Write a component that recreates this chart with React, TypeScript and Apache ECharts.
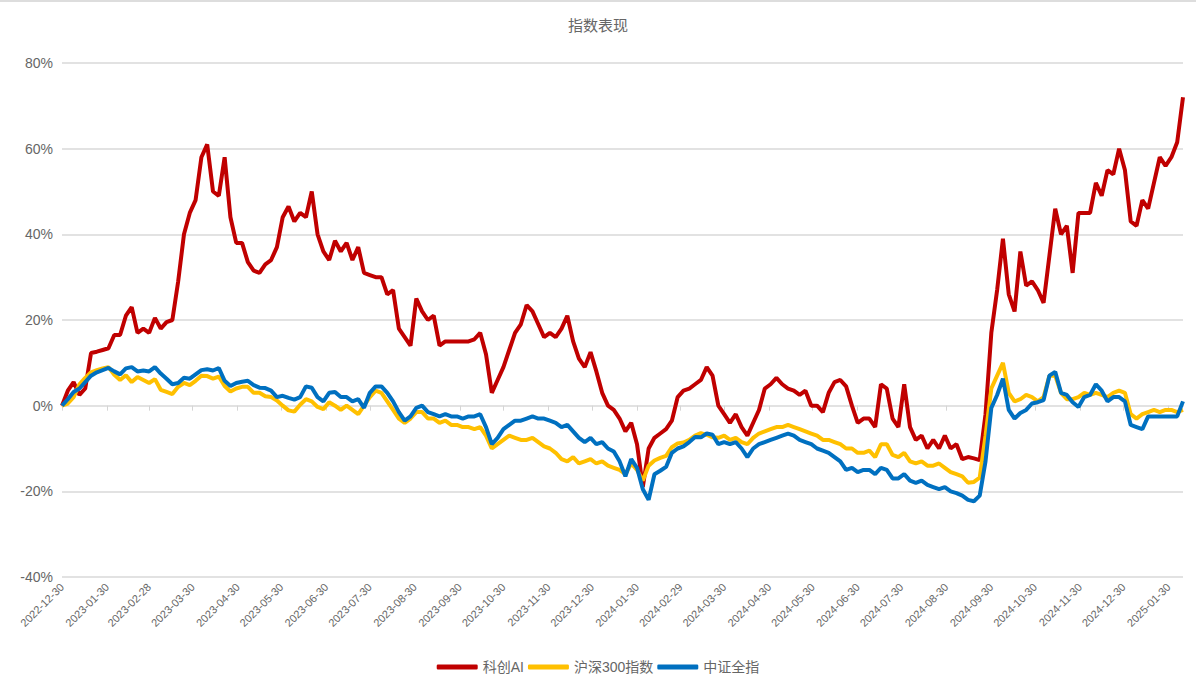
import React, { useEffect, useRef } from "react";
import * as echarts from "echarts";

// Sample grid: one value every STEP_DAYS calendar days from START_DATE
const START_DATE = "2022-12-30";
const STEP_DAYS = 4;

const seriesNames = ["科创AI", "沪深300指数", "中证全指"];
const seriesColors = ["#C00000", "#FFC000", "#0070C0"];

// 科创AI (%)
const kcai = [
  0, 3.5, 5.5, 2.5, 4, 12.3, 12.6, 13, 13.4, 16.5,
  16.5, 21, 23, 17, 18, 17, 20.5, 18, 19.5, 20,
  29, 40, 45, 48, 58, 61, 50, 49, 58, 44,
  38, 38, 33.5, 31.5, 31, 33, 34, 37, 44, 46.5,
  43, 45, 44, 50, 40, 36, 34, 38.5, 36, 38,
  34, 37, 31, 30.5, 30, 30, 26, 27, 18, 16,
  14, 25, 22, 20, 21, 14, 15, 15, 15, 15,
  15, 15.5, 17, 12, 3, 6, 9, 13, 17, 19,
  23.5, 22, 19, 16, 17, 16, 18, 21, 15, 11,
  9, 12.5, 8, 3, 0, -1, -3, -6, -4, -9,
  -19, -10, -7.5, -6.5, -5.5, -3.5, 2, 3.5, 4, 5,
  6, 9, 7, 0, -2, -4, -2, -5, -7, -4,
  -1, 4, 5, 6.5, 5, 4, 3.5, 2.5, 3.5, 0,
  0, -1.5, 3, 5.5, 6, 4.5, 0, -4, -3, -3,
  -5, 5, 4, -3, -5, 5, -5, -8, -7, -10,
  -8, -10, -7, -10, -9, -12.5, -12, -12.3, -12.7, -2,
  17, 27, 39, 26, 22, 36, 28, 29, 27, 24,
  35, 46, 40, 42, 31, 45, 45, 45, 52, 49,
  55, 54, 60, 55, 43, 42, 48, 46, 52, 58,
  56, 58, 61.5, 72,
];

// 沪深300指数 (%)
const hs300 = [
  0, 0.5, 2, 5, 6.5, 7.8, 8.3, 8.7, 9, 7.2,
  6, 7.1, 5.5, 6.7, 6, 5.3, 6.2, 3.7, 3.2, 2.7,
  4.4, 5.3, 4.8, 5.8, 7, 6.9, 6.3, 6.8, 4.6, 3.3,
  4, 4.4, 4.4, 3, 3, 2.2, 2, 1.2, 0, -1.1,
  -1.4, 0.2, 1.5, 1, -0.3, -0.8, 0.8, 0, -1, 0,
  -1, -2, 0, 2, 3.5, 3, 1, -1, -3, -4,
  -3, -1.5, -1.5, -3, -3, -4, -3.5, -4.5, -4.5, -5,
  -5, -5.5, -5, -7, -10, -9, -8, -7, -7.5, -8,
  -8, -7.5, -8.5, -9.5, -10, -11, -12.5, -13, -12, -13.5,
  -13, -12.5, -13.5, -13, -14, -14.5, -15, -16, -13.5, -15,
  -17.5, -14, -12.8, -12.2, -11.7, -9.7, -8.8, -8.6, -8, -7,
  -6.4, -6.8, -7.4, -7.5, -7, -8, -7.5, -8.5, -9, -7.5,
  -6.5, -6, -5.5, -5, -5, -4.5, -5, -5.5, -6, -6.5,
  -7, -8, -8, -8.5, -9, -10, -10, -11, -11, -10.5,
  -12, -9, -9, -11.5, -12, -11, -13, -13.5, -13, -14,
  -14, -13.5, -14.5, -15.5, -16, -16.5, -18, -17.8, -16.8, -7,
  4, 7, 10, 3, 1, 1.5, 2.5, 2, 1, 2,
  7, 7, 3, 1.5, 1.5, 2, 3, 2.5, 3, 2.5,
  2, 3, 3.5, 3, -2, -3, -2, -1.5, -1, -1.5,
  -1, -1, -1.5, -1,
];

// 中证全指 (%)
const zzqz = [
  0, 1.5, 3.2, 4, 5.5, 7, 7.8, 8.3, 8.8, 8,
  7.3, 8.7, 9, 8, 8.2, 8, 9, 7.5, 6.3, 5,
  5.3, 6.5, 6.3, 7.3, 8.3, 8.5, 8.2, 8.8, 5.8, 4.6,
  5.3, 5.6, 5.8, 4.8, 4.2, 4.1, 3.5, 2, 2.3, 1.8,
  1.4, 2, 4.5, 4.2, 2, 1, 3, 3.2, 2, 2,
  1, 1.5, -0.5, 3, 4.5, 4.5, 3, 1, -1.5, -3.5,
  -2.5, -0.5, 0, -1.5, -2, -2.5, -2, -2.5, -2.5, -3,
  -2.5, -2.5, -2, -5, -9, -7.5, -5.5, -4.5, -3.5, -3.5,
  -3, -2.5, -3, -3, -3.5, -4, -5, -4.5, -6, -7.5,
  -8.5, -7.5, -9, -8.5, -10, -10.7, -13, -16.5, -12.5, -14.5,
  -19.5, -22, -16, -15.2, -14.3, -11, -10, -9.5, -8.5, -7.3,
  -7.4, -6.5, -6.8, -9, -8.5, -9, -8.5, -10, -12, -10,
  -9, -8.5, -8, -7.5, -7, -6.5, -7, -8, -8.5, -9,
  -10, -10.5, -11, -12, -13, -15, -14.5, -15.5, -15, -15,
  -16, -14.5, -15, -17, -17, -16, -17.5, -18, -17.5, -18.5,
  -19, -19.5, -19, -20, -20.4, -21, -22, -22.3, -21, -13,
  -0.5, 2.5, 6.3, -1, -3, -1.7, -1, 0.5, 0.8, 1.3,
  7, 7.9, 3, 2.5, 0.8, -0.3, 2, 2.5, 5, 3.5,
  1, 2, 2, 1, -4.5, -5, -5.5, -2.5, -2.5, -2.5,
  -2.5, -2.5, -2.5, 1,
];

const seriesValues = [kcai, hs300, zzqz];

const Y_MIN = -40;
const Y_MAX = 80;
const Y_STEP = 20;

function dayString(base: string, offset: number): string {
  const [y, m, d] = base.split("-").map(Number);
  const t = Date.UTC(y, m - 1, d) + offset * 86400000;
  return new Date(t).toISOString().slice(0, 10);
}

function isLabelDay(date: string): boolean {
  const [y, m, d] = date.split("-").map(Number);
  if (m === 2) {
    const last = new Date(Date.UTC(y, 2, 0)).getUTCDate();
    return d === last;
  }
  return d === 30;
}

export default function App() {
  const ref = useRef<HTMLDivElement>(null);

  useEffect(() => {
    document.body.style.margin = "0";
    if (!ref.current) return;
    const chart = echarts.init(ref.current, undefined, { renderer: "svg" });

    const totalDays = (kcai.length - 1) * STEP_DAYS;
    const categories: string[] = [];
    for (let k = 0; k <= totalDays; k++) categories.push(dayString(START_DATE, k));
    const sampleDates = kcai.map((_, i) => dayString(START_DATE, i * STEP_DAYS));

    const intervalFn = (_idx: number, value: string) => isLabelDay(value);
    const gridColor = "#E2E2E2";
    const font = "'Liberation Sans', Arial, 'Noto Sans CJK SC', sans-serif";

    chart.setOption({
      animation: false,
      textStyle: { fontFamily: font },
      title: {
        text: "指数表现",
        left: "center",
        top: 13,
        textStyle: { fontSize: 15, fontWeight: "normal", color: "#666", fontFamily: font },
      },
      graphic: [
        { type: "rect", shape: { x: 0, y: 0, width: 1196, height: 2 }, style: { fill: "#DDDDDD" }, silent: true },
      ],
      legend: {
        data: seriesNames,
        left: "center",
        top: 655,
        icon: "roundRect",
        itemWidth: 41,
        itemHeight: 5,
        itemGap: 4,
        textStyle: { fontSize: 14, color: "#666", fontFamily: font },
      },
      grid: { left: 62, right: 13, top: 63, bottom: 111, containLabel: false },
      xAxis: [
        {
          type: "category",
          data: categories,
          boundaryGap: false,
          position: "bottom",
          axisLine: { onZero: true, lineStyle: { color: gridColor, width: 2 } },
          axisTick: { show: true, interval: intervalFn, length: 5, lineStyle: { color: "#D5D5D5" } },
          axisLabel: { show: false },
          splitLine: { show: false },
        },
        {
          type: "category",
          data: categories,
          boundaryGap: false,
          position: "bottom",
          axisLine: { show: false, onZero: false },
          axisTick: { show: false },
          axisLabel: {
            show: true,
            interval: intervalFn,
            rotate: 45,
            fontSize: 11,
            color: "#666",
            margin: 8,
            fontFamily: font,
          },
          splitLine: { show: false },
        },
      ],
      yAxis: {
        type: "value",
        min: Y_MIN,
        max: Y_MAX,
        interval: Y_STEP,
        axisLine: { show: false },
        axisTick: { show: false },
        axisLabel: { formatter: "{value}%", fontSize: 14, color: "#666", margin: 9, fontFamily: font },
        splitLine: { lineStyle: { color: gridColor, width: 2 } },
      },
      series: seriesNames.map((name, s) => ({
        name,
        type: "line",
        xAxisIndex: 0,
        showSymbol: false,
        symbol: "none",
        connectNulls: true,
        lineStyle: { width: 4, color: seriesColors[s] },
        itemStyle: { color: seriesColors[s] },
        data: seriesValues[s].map((v, i) => [sampleDates[i], v]),
      })),
    });

    return () => chart.dispose();
  }, []);

  return <div ref={ref} style={{ width: 1196, height: 688 }} />;
}
